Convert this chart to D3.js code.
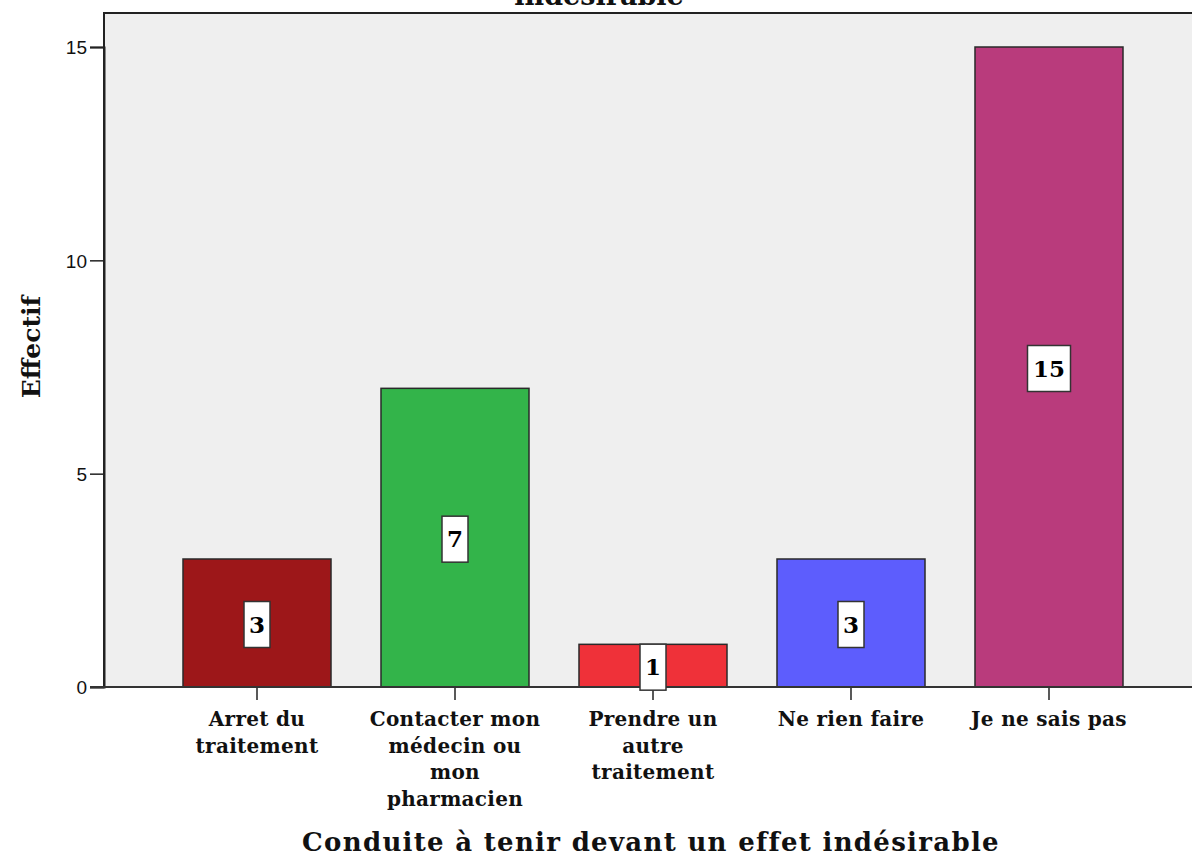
<!DOCTYPE html>
<html>
<head>
<meta charset="utf-8">
<script src="https://cdn.jsdelivr.net/npm/d3@7/dist/d3.min.js"></script>
<style>
  html, body { margin: 0; padding: 0; background: #fff; }
  svg { display: block; }
</style>
</head>
<body>
<svg id="chart" width="1192" height="856"></svg>
<script>
// Categories, counts and bar colours
const categories = [
  ["Arret du", "traitement"],
  ["Contacter mon", "médecin ou", "mon", "pharmacien"],
  ["Prendre un", "autre", "traitement"],
  ["Ne rien faire"],
  ["Je ne sais pas"]
];
const counts = [3, 7, 1, 3, 15];
const barColors = ["#9d1719", "#33b44a", "#ef3139", "#5d5dfd", "#b93b7c"];
const yTicks = [0, 5, 10, 15];
const titleLines = ["Conduite à tenir devant un effet", "indésirable"];
const xTitle = "Conduite à tenir devant un effet indésirable";
const yTitle = "Effectif";

const serif = "'DejaVu Serif', 'Liberation Serif', serif";
const sans = "'Liberation Sans', Arial, sans-serif";

const svg = d3.select("#chart");
const plot = { left: 104, top: 13, right: 1202, bottom: 687 };

const keys = categories.map((c, i) => i);
const x = d3.scaleBand()
  .domain(keys)
  .range([plot.left, plot.right])
  .paddingInner(0.2525)
  .paddingOuter(0.399);

const y = d3.scaleLinear()
  .domain([0, 15])
  .range([plot.bottom, 47]);

// plot background and frame
svg.append("rect")
  .attr("x", plot.left).attr("y", plot.top)
  .attr("width", plot.right - plot.left).attr("height", plot.bottom - plot.top)
  .attr("fill", "#efefef")
  .attr("stroke", "#222").attr("stroke-width", 2);

// bars
svg.append("g").selectAll("rect")
  .data(counts)
  .join("rect")
  .attr("x", (d, i) => x(i))
  .attr("y", d => y(d))
  .attr("width", x.bandwidth())
  .attr("height", d => y(0) - y(d))
  .attr("fill", (d, i) => barColors[i])
  .attr("stroke", "#2a2a2a")
  .attr("stroke-width", 1.5);

// y axis
const yAxis = svg.append("g")
  .attr("transform", `translate(${plot.left},0)`)
  .call(d3.axisLeft(y).tickValues(yTicks).tickFormat(d3.format("d")).tickSize(14).tickPadding(3));
yAxis.select(".domain").attr("stroke", "#222").attr("stroke-width", 2);
yAxis.selectAll(".tick line").attr("stroke", "#222").attr("stroke-width", 1.5);
yAxis.selectAll(".tick text")
  .attr("font-family", sans).attr("font-size", 19).attr("fill", "#111")
  .attr("dy", "0.36em");

// x axis
const xAxis = svg.append("g")
  .attr("transform", `translate(0,${plot.bottom})`)
  .call(d3.axisBottom(x).tickSize(13).tickFormat(""));
xAxis.select(".domain").remove();
xAxis.selectAll(".tick line").attr("stroke", "#222").attr("stroke-width", 1.5);
svg.append("line")
  .attr("x1", plot.left - 14).attr("x2", plot.right)
  .attr("y1", plot.bottom).attr("y2", plot.bottom)
  .attr("stroke", "#333").attr("stroke-width", 2);

// category labels
const catG = svg.append("g");
categories.forEach((lines, i) => {
  const t = catG.append("text")
    .attr("x", x(i) + x.bandwidth() / 2)
    .attr("y", 726)
    .attr("text-anchor", "middle")
    .attr("font-family", serif).attr("font-weight", "bold")
    .attr("font-size", 20).attr("fill", "#111")
    .attr("letter-spacing", 0.3);
  lines.forEach((ln, j) => {
    t.append("tspan")
      .attr("x", x(i) + x.bandwidth() / 2)
      .attr("dy", j === 0 ? 0 : 26.5)
      .text(ln);
  });
});

// value labels in white boxes at bar mid-height
const labG = svg.append("g");
counts.forEach((v, i) => {
  const cx = x(i) + x.bandwidth() / 2;
  const cy = (y(v) + y(0)) / 2 + 1.5;
  const w = String(v).length > 1 ? 43 : 26;
  const h = 46;
  labG.append("rect")
    .attr("x", cx - w / 2).attr("y", cy - h / 2)
    .attr("width", w).attr("height", h)
    .attr("fill", "#fff").attr("stroke", "#333").attr("stroke-width", 1.5);
  labG.append("text")
    .attr("x", cx).attr("y", cy + 8)
    .attr("text-anchor", "middle")
    .attr("font-family", serif).attr("font-weight", "bold")
    .attr("font-size", 23).attr("fill", "#000")
    .text(v);
});

// chart title (first line falls above the visible area)
svg.append("text")
  .attr("x", 599).attr("y", 5)
  .attr("text-anchor", "middle")
  .attr("font-family", serif).attr("font-weight", "bold")
  .attr("font-size", 27).attr("fill", "#111")
  .selectAll("tspan")
  .data(titleLines)
  .join("tspan")
  .attr("x", 599)
  .attr("dy", (d, i) => i === 0 ? -30 : 30)
  .text(d => d);

svg.append("text")
  .attr("x", 651).attr("y", 851)
  .attr("text-anchor", "middle")
  .attr("font-family", serif).attr("font-weight", "bold")
  .attr("font-size", 26).attr("fill", "#111")
  .attr("letter-spacing", 1.3)
  .text(xTitle);

svg.append("text")
  .attr("transform", "translate(40,347) rotate(-90)")
  .attr("text-anchor", "middle")
  .attr("font-family", serif).attr("font-weight", "bold")
  .attr("font-size", 25).attr("fill", "#111")
  .text(yTitle);
</script>
</body>
</html>
